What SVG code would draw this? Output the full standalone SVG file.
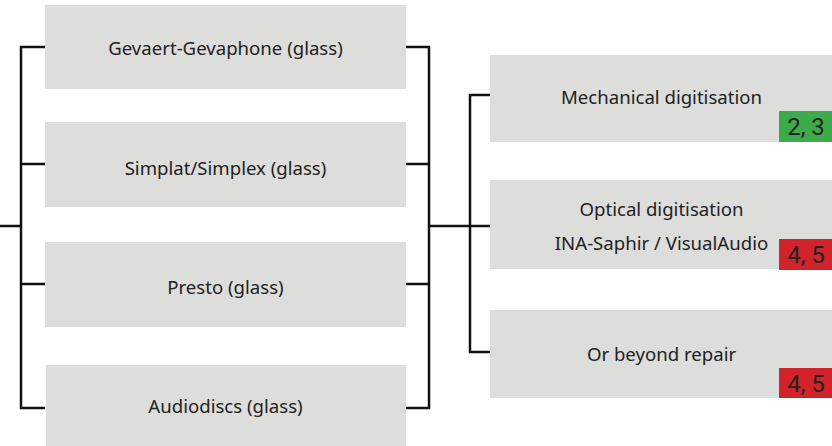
<svg xmlns="http://www.w3.org/2000/svg" width="832" height="446" viewBox="0 0 832 446">
<style>
.box{fill:#dddddc}
.t{font-family:"Noto Sans","Open Sans",sans-serif;font-size:18.6px;fill:#222;text-anchor:middle}
.b{font-family:Roboto,"Liberation Sans",sans-serif;font-size:24px;fill:#222;text-anchor:middle}
.c{fill:none;stroke:#111;stroke-width:2.5}
</style>
<rect width="832" height="446" fill="#fff"/>
<g id="connectors">
<path class="c" d="M45 47H21V408H45M21 164H45M21 284H45M0 226H21"/>
<path class="c" d="M406 47H429V408H406M406 164H429M406 284H429M429 226H490"/>
<path class="c" d="M490 95H470V352H490"/>
</g>
<g id="n1"><rect class="box" x="45" y="5" width="361" height="84"/><text class="t" x="225.5" y="55">Gevaert-Gevaphone (glass)</text></g>
<g id="n2"><rect class="box" x="45" y="122" width="361" height="85"/><text class="t" x="225.5" y="175">Simplat/Simplex (glass)</text></g>
<g id="n3"><rect class="box" x="45" y="242" width="361" height="85"/><text class="t" x="225.5" y="294">Presto (glass)</text></g>
<g id="n4"><rect class="box" x="46" y="365" width="360" height="81"/><text class="t" x="225.5" y="413">Audiodiscs (glass)</text></g>
<g id="m1"><rect class="box" x="490" y="55" width="342" height="87"/><text class="t" x="661.5" y="104">Mechanical digitisation</text>
<rect x="779" y="111" width="53" height="31" fill="#3dab4b"/><text class="b" x="806" y="135">2, 3</text></g>
<g id="m2"><rect class="box" x="490" y="180" width="342" height="89"/><text class="t" x="661.5" y="216">Optical digitisation</text><text class="t" x="661.5" y="250">INA-Saphir / VisualAudio</text>
<rect x="779" y="239" width="53" height="31" fill="#d2232a"/><text class="b" x="806" y="263">4, 5</text></g>
<g id="m3"><rect class="box" x="490" y="310" width="342" height="88"/><text class="t" x="661.5" y="361">Or beyond repair</text>
<rect x="779" y="368" width="53" height="30" fill="#d2232a"/><text class="b" x="806" y="392">4, 5</text></g>
</svg>
